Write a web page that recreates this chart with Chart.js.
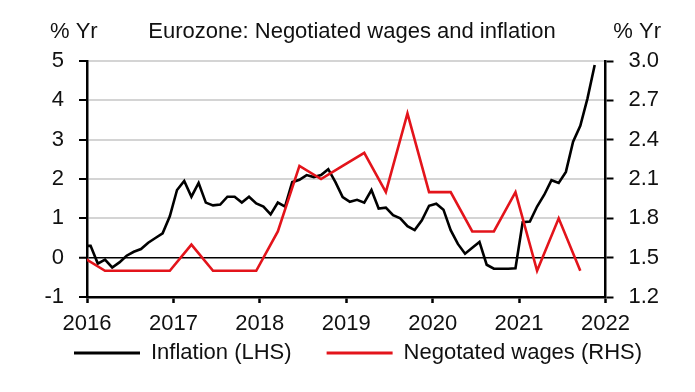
<!DOCTYPE html>
<html><head><meta charset="utf-8">
<script src="https://cdn.jsdelivr.net/npm/chart.js@4/dist/chart.umd.min.js"></script>
<style>html,body{margin:0;padding:0;background:#fff;}</style>
</head><body>
<canvas id="c" width="695" height="392"></canvas>
<script>
// ---- text ----
const chartTitle = 'Eurozone: Negotiated wages and inflation';
const leftUnit = '% Yr';
const rightUnit = '% Yr';
const seriesNames = ['Inflation (LHS)', 'Negotated wages (RHS)'];

// ---- axis ticks ----
const yearLabels = ['2016', '2017', '2018', '2019', '2020', '2021', '2022'];
const leftTicks = [-1, 0, 1, 2, 3, 4, 5];
const rightTicks = [1.2, 1.5, 1.8, 2.1, 2.4, 2.7, 3.0];

// ---- inflation, monthly, Dec 2015 .. Nov 2021 ----
const inflationStart = [2015, 12];
const inflation = [
  0.3,
  0.3, -0.15, -0.05, -0.25, -0.12, 0.05, 0.15, 0.22, 0.38, 0.5, 0.62, 1.05,
  1.72, 1.95, 1.55, 1.9, 1.4, 1.33, 1.35, 1.55, 1.55, 1.4, 1.55, 1.38,
  1.3, 1.1, 1.4, 1.3, 1.92, 1.98, 2.1, 2.05, 2.1, 2.25, 1.92, 1.54,
  1.42, 1.47, 1.4, 1.72, 1.25, 1.27, 1.08, 1.0, 0.8, 0.7, 0.95, 1.32,
  1.37, 1.22, 0.7, 0.35, 0.1, 0.25, 0.4, -0.18, -0.28, -0.28, -0.28, -0.27,
  0.9, 0.92, 1.3, 1.6, 1.97, 1.9, 2.18, 2.95, 3.35, 4.05, 4.9
];

// ---- negotiated wages, quarterly ----
const wageQuarters = [
  '2015Q4',
  '2016Q1', '2016Q2', '2016Q3', '2016Q4',
  '2017Q1', '2017Q2', '2017Q3', '2017Q4',
  '2018Q1', '2018Q2', '2018Q3', '2018Q4',
  '2019Q1', '2019Q2', '2019Q3', '2019Q4',
  '2020Q1', '2020Q2', '2020Q3', '2020Q4',
  '2021Q1', '2021Q2', '2021Q3'
];
const wages = [
  1.5,
  1.4, 1.4, 1.4, 1.4,
  1.6, 1.4, 1.4, 1.4,
  1.7, 2.2, 2.1, 2.2,
  2.3, 2.0, 2.6, 2.0,
  2.0, 1.7, 1.7, 2.0,
  1.4, 1.8, 1.4
];

// date -> decimal year (middle of the month)
function monthToYear(y, m) { return y + (m - 0.5) / 12; }

const inflationPts = inflation.map((v, i) => {
  const mm = inflationStart[1] - 1 + i;
  return { x: monthToYear(inflationStart[0] + Math.floor(mm / 12), (mm % 12) + 1), y: v };
});
const wagePts = wageQuarters.map((q, i) => {
  const yr = parseInt(q.slice(0, 4), 10), qn = parseInt(q.slice(5), 10);
  return { x: monthToYear(yr, qn * 3), y: wages[i] };
});

const FONT = '"Liberation Sans", Arial, sans-serif';

const headerPlugin = {
  id: 'header',
  afterDraw(chart) {
    const ctx = chart.ctx;
    ctx.save();
    ctx.font = '22px ' + FONT;
    ctx.fillStyle = '#111';
    ctx.textBaseline = 'alphabetic';
    ctx.textAlign = 'left';
    ctx.fillText(leftUnit, 50, 38);
    ctx.textAlign = 'center';
    ctx.fillText(chartTitle, 352, 38);
    ctx.textAlign = 'right';
    ctx.fillText(rightUnit, 661, 38);
    ctx.restore();
  }
};

new Chart(document.getElementById('c'), {
  type: 'line',
  data: {
    datasets: [
      { label: seriesNames[0], data: inflationPts, yAxisID: 'y', borderColor: '#000000', backgroundColor: '#000000',
        borderWidth: 2.6, pointRadius: 0, tension: 0, order: 2 },
      { label: seriesNames[1], data: wagePts, yAxisID: 'y1', borderColor: '#e3141b', backgroundColor: '#e3141b',
        borderWidth: 2.6, pointRadius: 0, tension: 0, order: 1 }
    ]
  },
  options: {
    responsive: false,
    devicePixelRatio: 1,
    animation: false,
    layout: { padding: { top: 61, left: 39, right: 0, bottom: 18 } },
    plugins: {
      tooltip: { enabled: false },
      legend: {
        position: 'bottom',
        align: 'start',
        labels: {
          font: { size: 22, family: FONT },
          color: '#111',
          boxWidth: 66,
          boxHeight: 3,
          padding: 35,
          generateLabels(chart) {
            const items = Chart.defaults.plugins.legend.labels.generateLabels(chart);
            items.forEach(it => { it.lineWidth = 0; it.fillStyle = it.strokeStyle; });
            items.sort((a, b) => a.datasetIndex - b.datasetIndex);
            return items;
          }
        }
      }
    },
    scales: {
      x: {
        type: 'linear', position: 'bottom', min: 2016, max: 2022,
        afterBuildTicks(scale) { scale.ticks = yearLabels.map(l => ({ value: Number(l) })); },
        afterFit(scale) { scale.height = 10; scale._computeLabelArea = () => undefined; },
        ticks: { font: { size: 22, family: FONT }, color: '#111', padding: 8, maxRotation: 0, minRotation: 0, autoSkip: false,
          callback: (v) => String(Math.round(Number(v))) },
        grid: { drawOnChartArea: false, drawTicks: true, tickLength: 6, tickColor: '#000', tickWidth: 2.5 },
        border: { display: true, color: '#000', width: 2.5 }
      },
      y: {
        position: 'left', min: -1, max: 5,
        afterBuildTicks(scale) { scale.ticks = leftTicks.map(v => ({ value: v })); },
        afterFit(scale) { scale.width = 48; },
        ticks: { font: { size: 22, family: FONT }, color: '#111', padding: 15, callback: v => String(v) },
        grid: {
          color: c => (c.tick && (c.tick.value === 0 || c.tick.value === -1)) ? '#000' : '#d4d4d4',
          lineWidth: c => (c.tick && c.tick.value === 0) ? 1.5 : 2,
          tickLength: 8, tickColor: '#000', tickWidth: 2
        },
        border: { display: true, color: '#000', width: 2.5 }
      },
      y1: {
        position: 'right', min: 1.2, max: 3.0,
        afterBuildTicks(scale) { scale.ticks = rightTicks.map(v => ({ value: v })); },
        afterFit(scale) { scale.width = 89.5; },
        ticks: { font: { size: 22, family: FONT }, color: '#111', padding: 15, callback: v => v.toFixed(1) },
        grid: { drawOnChartArea: false, tickLength: 8, tickColor: '#000', tickWidth: 2 },
        border: { display: true, color: '#000', width: 2.5 }
      }
    }
  },
  plugins: [headerPlugin]
});
</script>
</body></html>
